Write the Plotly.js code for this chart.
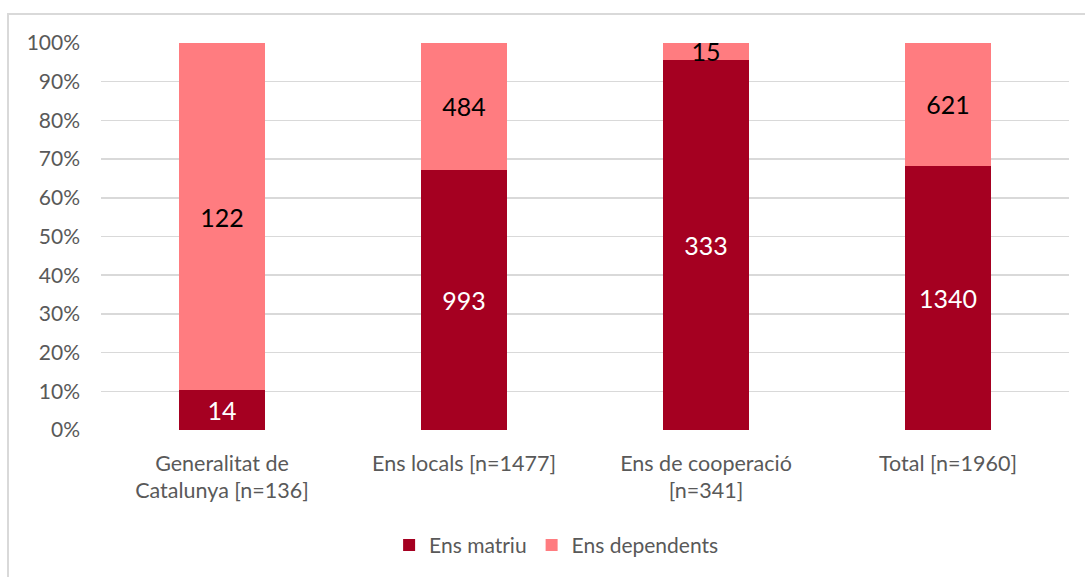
<!DOCTYPE html>
<html>
<head>
<meta charset="utf-8">
<script src="https://cdn.plot.ly/plotly-3.0.1.min.js"></script>
<style>
  html, body { margin: 0; padding: 0; background: #fff; }
  #frame { position: absolute; left: 7px; top: 13px; width: 1100px; height: 600px; border-left: 2px solid #d9d9d9; border-top: 2px solid #d9d9d9; }
  #chart { position: absolute; left: 0; top: 0; width: 1085px; height: 577px; }
</style>
</head>
<body>
<div id="frame"></div>
<div id="chart"></div>
<script>
const categories = ["Generalitat de<br>Catalunya [n=136]", "Ens locals [n=1477]", "Ens de cooperació<br>[n=341]", "Total [n=1960]"];
const ensMatriu = [14, 993, 333, 1340];
const ensDependents = [122, 484, 15, 621];
const yTickVals = [0, 10, 20, 30, 40, 50, 60, 70, 80, 90, 100];
const yTickText = ["0%", "10%", "20%", "30%", "40%", "50%", "60%", "70%", "80%", "90%", "100%"];

const FONT = "Lato, 'Open Sans', sans-serif";

const traces = [
  {
    type: "bar", name: "Ens matriu", x: categories, y: ensMatriu,
    marker: { color: "#A50021" },
    text: ensMatriu.map(String), textposition: "inside", insidetextanchor: "middle",
    textangle: 0, constraintext: "none",
    textfont: { color: "#ffffff", size: 25, family: FONT },
    hoverinfo: "skip"
  },
  {
    type: "bar", name: "Ens dependents", x: categories, y: ensDependents,
    marker: { color: "#FF7C80" },
    text: ensDependents.map(String), textposition: "inside", insidetextanchor: "middle",
    textangle: 0, constraintext: "none",
    textfont: { color: "#000000", size: 25, family: FONT },
    hoverinfo: "skip"
  }
];

const layout = {
  width: 1085, height: 577,
  paper_bgcolor: "rgba(0,0,0,0)", plot_bgcolor: "rgba(0,0,0,0)",
  margin: { l: 101, r: 16, t: 43, b: 147 },
  barmode: "stack", barnorm: "percent", bargap: 0.645,
  font: { family: FONT, color: "#595959", size: 21 },
  xaxis: {
    type: "category", showgrid: false, zeroline: false, showline: false,
    tickfont: { size: 21.5, color: "#595959", family: FONT },
    ticks: "", ticklabelstandoff: 18
  },
  yaxis: {
    range: [0, 100], tickvals: yTickVals, ticktext: yTickText,
    showgrid: true, gridcolor: "#d9d9d9", gridwidth: 1.5,
    zeroline: false, showline: false, ticks: "",
    tickfont: { size: 21, color: "#595959", family: FONT },
    ticklabelstandoff: 20
  },
  showlegend: true,
  legend: {
    orientation: "h", xref: "container", yref: "container",
    x: 0.513, xanchor: "center", y: 0.055, yanchor: "middle",
    font: { size: 21, color: "#595959", family: FONT },
    itemsizing: "constant", itemwidth: 30, traceorder: "normal"
  }
};

Plotly.newPlot("chart", traces, layout, { displayModeBar: false, staticPlot: true });
</script>
</body>
</html>
